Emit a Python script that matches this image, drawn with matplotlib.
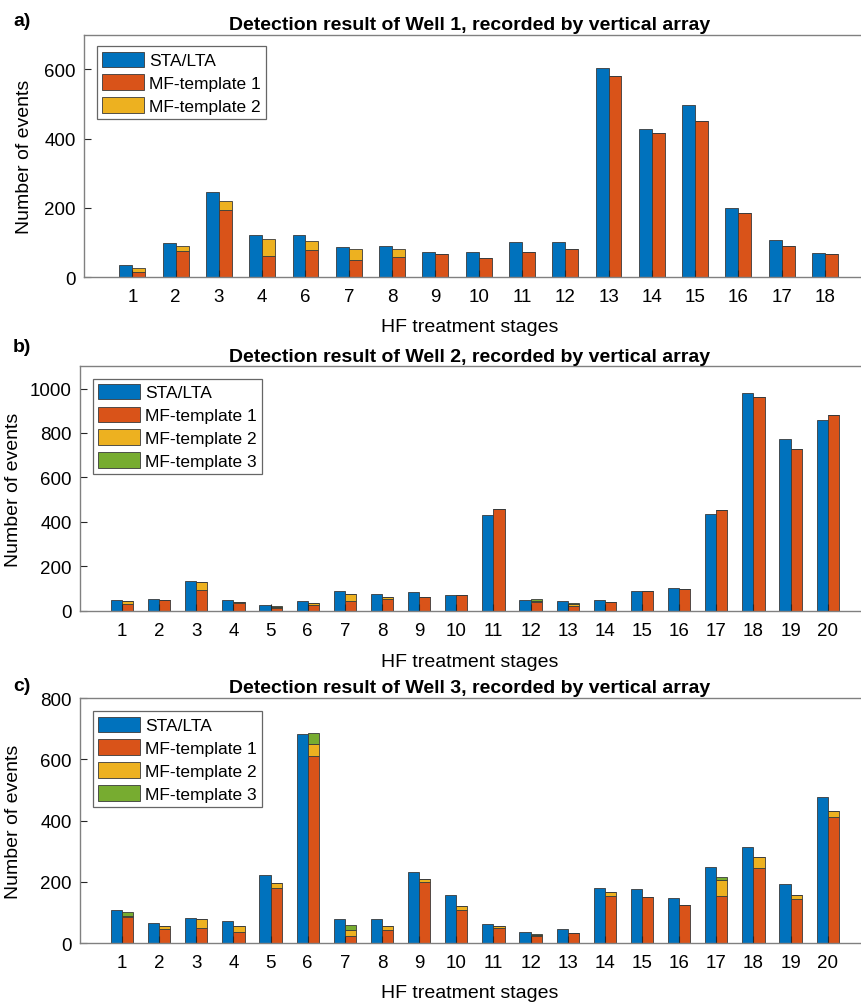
import matplotlib.pyplot as plt
import numpy as np

plt.rcParams['font.family'] = ['Liberation Sans', 'DejaVu Sans']

BLUE = '#0072BD'
ORANGE = '#D95319'
YELLOW = '#EDB120'
GREEN = '#77AC30'
EDGE = '#3a3a3a'

# Well 1 (stage 5 not recorded)
stages_a = [1, 2, 3, 4, 6, 7, 8, 9, 10, 11, 12, 13, 14, 15, 16, 17, 18]
sta_a = [36, 98, 245, 123, 121, 88, 91, 74, 74, 102, 103, 604, 428, 498, 201, 108, 70]
mf1_a = [14, 76, 194, 61, 78, 50, 58, 68, 56, 74, 83, 580, 415, 450, 186, 91, 66]
mf2_a = [14, 13, 27, 49, 26, 31, 25, 0, 0, 0, 0, 0, 0, 0, 0, 0, 0]

# Well 2
stages_b = list(range(1, 21))
sta_b = [48, 54, 132, 48, 24, 42, 87, 74, 84, 71, 430, 48, 42, 50, 90, 102, 435, 981, 773, 860]
mf1_b = [29, 47, 95, 36, 14, 26, 42, 53, 63, 71, 457, 40, 21, 41, 87, 96, 451, 960, 726, 881]
mf2_b = [13, 0, 34, 2, 4, 10, 33, 10, 0, 0, 0, 5, 7, 0, 0, 0, 0, 0, 0, 0]
mf3_b = [0, 0, 0, 3, 2, 0, 0, 0, 0, 0, 0, 7, 7, 0, 0, 0, 0, 0, 0, 0]

# Well 3
stages_c = list(range(1, 21))
sta_c = [110, 66, 82, 73, 222, 683, 80, 79, 232, 156, 64, 37, 47, 181, 176, 149, 250, 314, 193, 478]
mf1_c = [86, 48, 50, 37, 181, 610, 25, 43, 201, 109, 50, 25, 33, 154, 150, 124, 154, 246, 143, 412]
mf2_c = [4, 8, 29, 20, 15, 40, 19, 13, 10, 13, 6, 3, 0, 12, 0, 0, 53, 35, 13, 21]
mf3_c = [11, 0, 0, 0, 0, 35, 15, 0, 0, 0, 0, 3, 0, 0, 0, 0, 8, 0, 0, 0]

W, H = 862, 1004
fig = plt.figure(figsize=(W / 100, H / 100), dpi=100)


def add_axes_px(left, top, right, bottom):
    return fig.add_axes([left / W, 1 - bottom / H, (right - left) / W, (bottom - top) / H])


def panel(ax, stages, sta, layers, pad, ylim, yticks, well, leg_anchor):
    x = np.arange(len(stages))
    w = 0.3
    ax.bar(x - w / 2, sta, w, color=BLUE, edgecolor=EDGE, lw=0.6, label='STA/LTA')
    bottom = np.zeros(len(stages))
    names = ['MF-template 1', 'MF-template 2', 'MF-template 3']
    for vals, col, name in zip(layers, [ORANGE, YELLOW, GREEN], names):
        ax.bar(x + w / 2, vals, w, bottom=bottom, color=col, edgecolor=EDGE, lw=0.6, label=name)
        bottom += np.array(vals)

    ax.set_xlim(-pad, len(stages) - 1 + pad)
    ax.set_ylim(*ylim)
    ax.set_xticks(x, labels=[str(s) for s in stages])
    ax.set_yticks(yticks)
    ax.tick_params(direction='in', length=5, width=0.8, color='#262626',
                   labelsize=13.5, labelcolor='black')
    ax.tick_params(axis='x', pad=8)
    ax.tick_params(axis='y', pad=6)
    ax.spines['right'].set_visible(False)
    for s in ['left', 'bottom', 'top']:
        ax.spines[s].set_color('#808080')
        ax.spines[s].set_linewidth(1.0)

    # title and x label are centred at x = 470 px in the figure
    bb = ax.get_position()
    xc = (470 / W - bb.x0) / bb.width
    ax.set_title(f'Detection result of Well {well}, recorded by vertical array',
                 fontsize=14, fontweight='bold', x=xc, pad=4)
    ax.set_xlabel('HF treatment stages', fontsize=14, va='center')
    ax.set_ylabel('Number of events', fontsize=14, va='center')

    leg = ax.legend(loc='upper left', bbox_to_anchor=leg_anchor, borderaxespad=0,
                    fontsize=12.5, frameon=True, fancybox=False, framealpha=1,
                    edgecolor='#666666', handlelength=2.45, handleheight=1.0,
                    handletextpad=0.25, labelspacing=0.35, borderpad=0.3)
    leg.get_frame().set_linewidth(0.9)
    return xc


ax_a = add_axes_px(84.3, 35.7, 873, 278.3)
xc = panel(ax_a, stages_a, sta_a, [mf1_a, mf2_a], 1.11, (0, 700), [0, 200, 400, 600], 1,
           (0.0157, 0.952))
ax_a.xaxis.set_label_coords(xc, (278.3 - 327) / 242.6)
ax_a.yaxis.set_label_coords((25 - 84.3) / 788.7, 0.5)

ax_b = add_axes_px(80, 367.3, 869.7, 611.7)
xc = panel(ax_b, stages_b, sta_b, [mf1_b, mf2_b, mf3_b], 1.13, (0, 1100),
           [0, 200, 400, 600, 800, 1000], 2, (0.016, 0.95))
ax_b.xaxis.set_label_coords(xc, (611.7 - 663) / 244.4)
ax_b.yaxis.set_label_coords((14 - 80) / 789.7, 0.5)

ax_c = add_axes_px(80, 699, 869.7, 944.3)
xc = panel(ax_c, stages_c, sta_c, [mf1_c, mf2_c, mf3_c], 1.13, (0, 800),
           [0, 200, 400, 600, 800], 3, (0.016, 0.945))
ax_c.xaxis.set_label_coords(xc, (944.3 - 994) / 245.3)
ax_c.yaxis.set_label_coords((14 - 80) / 789.7, 0.5)

for lab, ypx in [('a)', 22), ('b)', 347), ('c)', 687)]:
    fig.text(13 / W, 1 - ypx / H, lab, fontsize=14, fontweight='bold', va='center', ha='left')

fig.savefig('out.png', dpi=100)
